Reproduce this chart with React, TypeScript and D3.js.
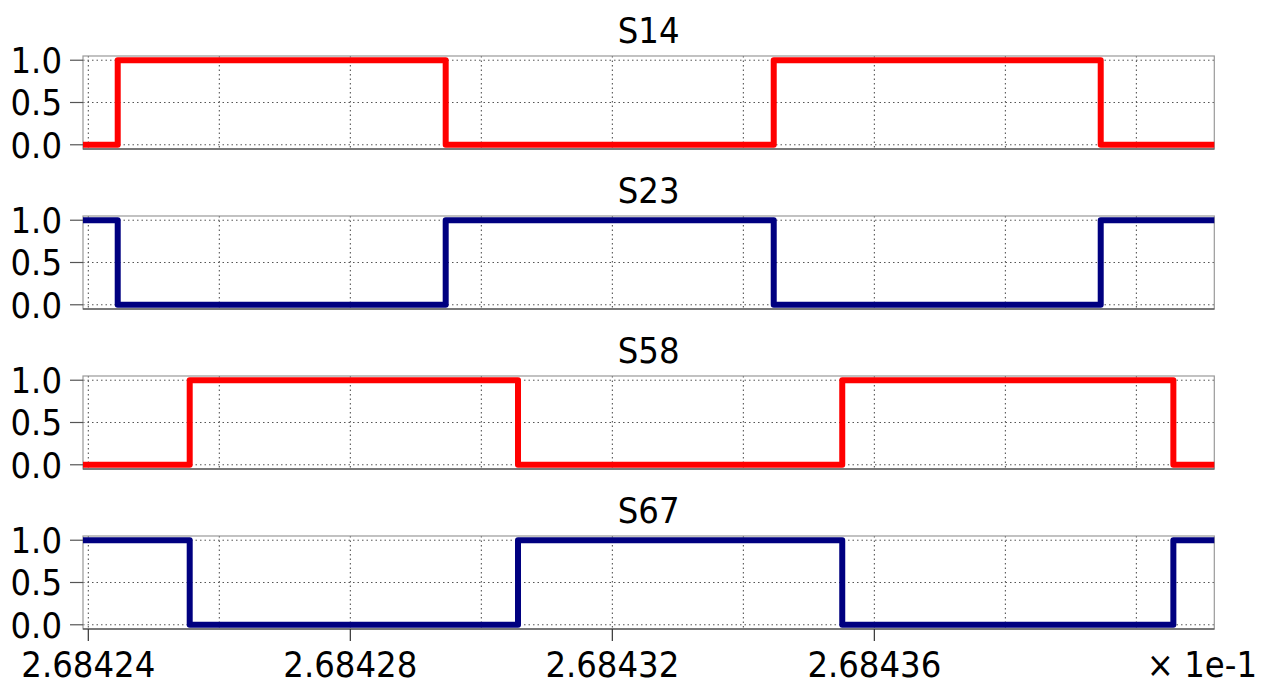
import React from "react";
import * as d3 from "d3";

// ---- data (x values shown in units of ×1e-1) ----
const xStart = 2.68423919;
const xEnd = 2.6844119;
const panelNames = ["S14", "S23", "S58", "S67"];
const s14Times = [xStart, 2.68424449, 2.68429456, 2.68434464, 2.68439456, xEnd];
const s14Values = [0, 1, 0, 1, 0, 0];
const s23Times = [xStart, 2.68424449, 2.68429456, 2.68434464, 2.68439456, xEnd];
const s23Values = [1, 0, 1, 0, 1, 1];
const s58Times = [xStart, 2.68425548, 2.6843056, 2.6843551, 2.68440565, xEnd];
const s58Values = [0, 1, 0, 1, 0, 0];
const s67Times = [xStart, 2.68425548, 2.6843056, 2.6843551, 2.68440565, xEnd];
const s67Values = [1, 0, 1, 0, 1, 1];
const seriesColors = ["#ff0000", "#000080", "#ff0000", "#000080"];
const gridXValues = [2.68424, 2.68426, 2.68428, 2.6843, 2.68432, 2.68434, 2.68436, 2.68438, 2.6844];
const xTickValues = [2.68424, 2.68428, 2.68432, 2.68436];
const xTickLabels = ["2.68424", "2.68428", "2.68432", "2.68436"];
const yTickValues = [0, 0.5, 1];
const yTickLabels = ["0.0", "0.5", "1.0"];
const xAxisNote = "× 1e-1";

const W = 1261;
const H = 684;
const left = 83;
const right = 1214.3;
const panelTops = [56, 216, 376, 536];
const panelH = 93;
const FONT = "'DejaVu Sans Condensed', 'DejaVu Sans', sans-serif";
const FS = 36;

export default function App() {
  const x = d3.scaleLinear().domain([xStart, xEnd]).range([left, right]);
  const seriesTimes = [s14Times, s23Times, s58Times, s67Times];
  const seriesValues = [s14Values, s23Values, s58Values, s67Values];

  return (
    <svg
      width={W}
      height={H}
      style={{ position: "absolute", left: 0, top: 0, background: "#fff" }}
      fontFamily={FONT}
    >
      {panelNames.map((name, i) => {
        const top = panelTops[i];
        const y = d3.scaleLinear().domain([-0.05, 1.05]).range([top + panelH, top]);
        const pts = seriesTimes[i].map((t, k) => [t, seriesValues[i][k]] as [number, number]);
        const line = d3
          .line<[number, number]>()
          .x((d) => x(d[0]))
          .y((d) => y(d[1]))
          .curve(d3.curveStepAfter);
        const isLast = i === panelNames.length - 1;
        return (
          <g key={name}>
            <text
              x={(left + right) / 2}
              y={top - 13.5}
              textAnchor="middle"
              fontSize={FS}
              fontStretch="condensed"
              fill="#000"
            >
              {name}
            </text>
            {/* grid */}
            {gridXValues.map((g) => (
              <line
                key={"gx" + g}
                x1={x(g)}
                x2={x(g)}
                y1={top}
                y2={top + panelH}
                stroke="#444"
                strokeWidth={1}
                strokeDasharray="1.5,3"
              />
            ))}
            {yTickValues.map((v) => (
              <line
                key={"gy" + v}
                x1={left}
                x2={right}
                y1={y(v)}
                y2={y(v)}
                stroke="#555"
                strokeWidth={1}
                strokeDasharray="1.5,3"
              />
            ))}
            {/* frame */}
            <rect
              x={left}
              y={top}
              width={right - left}
              height={panelH}
              fill="none"
              stroke="#999"
              strokeWidth={1.2}
            />
            <line x1={left} x2={right} y1={top + panelH} y2={top + panelH} stroke="#333" strokeWidth={1.2} />
            {/* y ticks */}
            {yTickValues.map((v, k) => (
              <g key={"yt" + v}>
                <line x1={left - 13} x2={left} y1={y(v)} y2={y(v)} stroke="#555" strokeWidth={1.2} />
                <text
                  x={62}
                  y={y(v)}
                  dy="0.36em"
                  textAnchor="end"
                  fontSize={FS}
                  fontStretch="condensed"
                  fill="#000"
                >
                  {yTickLabels[k]}
                </text>
              </g>
            ))}
            {/* series */}
            <path
              d={line(pts) || ""}
              fill="none"
              stroke={seriesColors[i]}
              strokeWidth={6}
              strokeLinejoin="round"
            />
            {isLast &&
              xTickValues.map((t, k) => (
                <g key={"xt" + t}>
                  <line
                    x1={x(t)}
                    x2={x(t)}
                    y1={top + panelH}
                    y2={top + panelH + 12}
                    stroke="#333"
                    strokeWidth={1.2}
                  />
                  <text
                    x={x(t)}
                    y={677}
                    textAnchor="middle"
                    fontSize={FS}
                    fontStretch="condensed"
                    fill="#000"
                  >
                    {xTickLabels[k]}
                  </text>
                </g>
              ))}
          </g>
        );
      })}
      <text x={1257} y={677} textAnchor="end" fontSize={FS} fontStretch="condensed" fill="#000">
        {xAxisNote}
      </text>
    </svg>
  );
}
